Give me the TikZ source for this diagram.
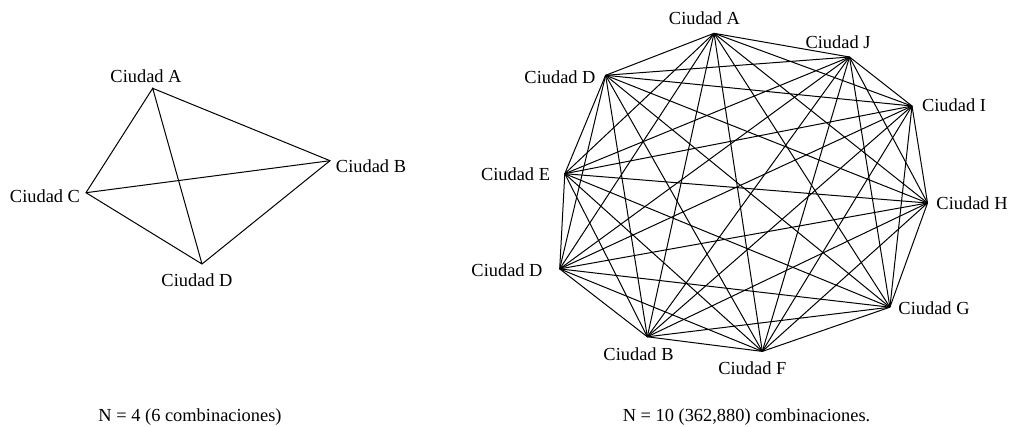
\documentclass[tikz,border=0pt]{standalone}
\usepackage{fontspec}
\setmainfont{Liberation Serif}
\tikzset{ciudad/.style={font=\fontsize{18.4}{22}\selectfont, inner sep=0pt}}
\begin{document}
\begin{tikzpicture}[x=1pt,y=-1pt,line width=1pt]
            \useasboundingbox (0,0) rectangle (1011,426);
            % N = 4
            \coordinate (a) at (152.7,88.3);
            \coordinate (b) at (330,160.7);
            \coordinate (c) at (86,192.7);
            \coordinate (d) at (202,264);
            \draw (a) -- (b) -- (d) -- (c) -- (a) -- (d);
            \draw (c) -- (b);
            \node [ciudad] (la) at (146,76) {Ciudad A};
            \node [ciudad] (lb) at (371,166) {Ciudad B};
            \node [ciudad] (lc) at (45,196) {Ciudad C};
            \node [ciudad] (ld) at (197,280) {Ciudad D};
            % N = 10
            \coordinate (r1) at (714,33.3);
            \coordinate (r2) at (849.5,57);
            \coordinate (r3) at (912,106);
            \coordinate (r4) at (927.5,203);
            \coordinate (r5) at (889.9,307.2);
            \coordinate (r6) at (762.3,351.4);
            \coordinate (r7) at (647.3,336.8);
            \coordinate (r8) at (559.7,268.9);
            \coordinate (r9) at (564.8,173.7);
            \coordinate (r10) at (605.6,75.3);
            \foreach \i in {1,...,9} {
                \pgfmathtruncatemacro\k{\i+1}
                \foreach \j in {\k,...,10}
                    \draw (r\i) -- (r\j);
            }
            \node [ciudad] (lr1) at (704.5,18.7) {Ciudad A};
            \node [ciudad] (lr2) at (838,42.4) {Ciudad J};
            \node [ciudad] (lr3) at (954,105) {Ciudad I};
            \node [ciudad] (lr4) at (972,203) {Ciudad H};
            \node [ciudad] (lr5) at (934,308.3) {Ciudad G};
            \node [ciudad] (lr6) at (752.3,368.3) {Ciudad F};
            \node [ciudad] (lr7) at (638.5,353.7) {Ciudad B};
            \node [ciudad] (lr8) at (507,270) {Ciudad D};
            \node [ciudad] (lr9) at (515.5,174) {Ciudad E};
            \node [ciudad] (lr10) at (560,77.4) {Ciudad D};
            % captions
            \node [ciudad, anchor=base] (n4) at (190,421) {N = 4 (6 combinaciones)};
            \node [ciudad, anchor=base] (n10) at (746.5,421) {N = 10 (362,880) combinaciones.};
        \end{tikzpicture}
\end{document}
